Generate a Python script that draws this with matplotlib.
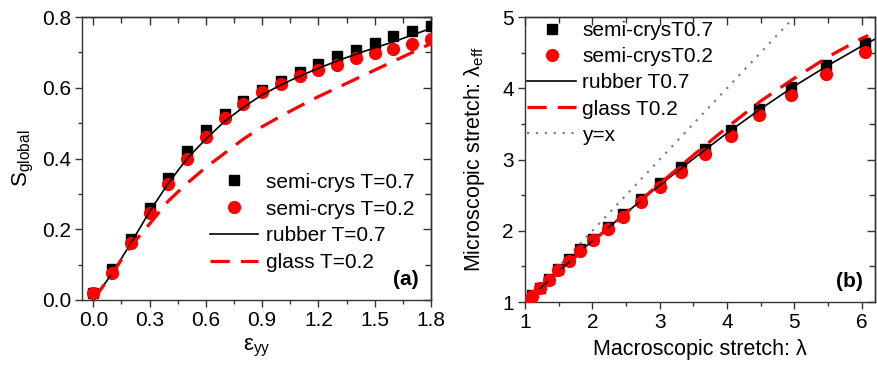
import matplotlib.pyplot as plt

plt.rcParams['font.family'] = 'Liberation Sans'
plt.rcParams['font.size'] = 15
plt.rcParams['mathtext.fontset'] = 'custom'
plt.rcParams['mathtext.rm'] = 'Liberation Sans'
plt.rcParams['mathtext.default'] = 'regular'

# (a) global order parameter vs strain
eps = [0.0, 0.1, 0.2, 0.3, 0.4, 0.5, 0.6, 0.7, 0.8, 0.9,
       1.0, 1.1, 1.2, 1.3, 1.4, 1.5, 1.6, 1.7, 1.8]
s_semi07 = [0.020, 0.087, 0.172, 0.260, 0.345, 0.420, 0.480, 0.527, 0.563, 0.594,
            0.620, 0.644, 0.667, 0.689, 0.708, 0.726, 0.745, 0.761, 0.776]
s_semi02 = [0.019, 0.077, 0.160, 0.247, 0.327, 0.398, 0.462, 0.514, 0.554, 0.587,
            0.611, 0.632, 0.649, 0.665, 0.683, 0.698, 0.711, 0.725, 0.739]
s_rubber = [0.0, 0.075, 0.160, 0.250, 0.330, 0.400, 0.455, 0.505, 0.545, 0.580,
            0.608, 0.633, 0.655, 0.676, 0.695, 0.713, 0.730, 0.749, 0.768]
s_glass = [0.0, 0.075, 0.152, 0.215, 0.280, 0.330, 0.375, 0.415, 0.455, 0.490,
           0.520, 0.548, 0.575, 0.600, 0.625, 0.650, 0.675, 0.700, 0.725]

# (b) microscopic vs macroscopic stretch
lam = [1.0, 1.11, 1.22, 1.35, 1.49, 1.65, 1.82, 2.01, 2.23, 2.46,
       2.72, 3.0, 3.32, 3.67, 4.06, 4.48, 4.95, 5.47, 6.05]
lam_semi07 = [1.02, 1.10, 1.20, 1.32, 1.47, 1.60, 1.75, 1.89, 2.06, 2.24,
              2.45, 2.67, 2.90, 3.15, 3.41, 3.71, 4.02, 4.32, 4.63]
lam_semi02 = [1.00, 1.09, 1.20, 1.31, 1.45, 1.57, 1.72, 1.87, 2.02, 2.20,
              2.40, 2.61, 2.83, 3.08, 3.33, 3.62, 3.91, 4.20, 4.51]
lam_rubber_x = [1.0, 1.5, 2.0, 2.5, 3.0, 3.5, 4.0, 4.5, 5.0, 5.5, 6.0, 6.2]
lam_rubber = [1.0, 1.43, 1.86, 2.25, 2.64, 3.01, 3.37, 3.71, 4.03, 4.32, 4.59, 4.69]
lam_glass_x = [1.0, 1.5, 2.0, 2.5, 3.0, 3.5, 4.0, 4.5, 5.0, 5.5, 6.0, 6.1]
lam_glass = [1.0, 1.42, 1.85, 2.25, 2.66, 3.06, 3.45, 3.82, 4.14, 4.44, 4.70, 4.74]
diag = [1.0, 5.0]

fig = plt.figure(figsize=(8.78, 3.67), dpi=100)
ax1 = fig.add_axes([0.0934, 0.1826, 0.3975, 0.771])
ax2 = fig.add_axes([0.598, 0.177, 0.3986, 0.7766])

ax1.plot(eps, s_semi07, 's', color='black', ms=7.5, label='semi-crys T=0.7', zorder=3)
ax1.plot(eps, s_semi02, 'o', color='red', ms=8.5, label='semi-crys T=0.2', zorder=3)
ax1.plot(eps, s_rubber, '-', color='black', lw=1.2, label='rubber T=0.7', zorder=4)
ax1.plot(eps, s_glass, '--', color='red', lw=2.3, dashes=(6, 3.5), label='glass T=0.2', zorder=4)

ax1.set_xlim(-0.06, 1.8)
ax1.set_ylim(0, 0.8)
xt_a, xm_a = [0.0, 0.3, 0.6, 0.9, 1.2, 1.5, 1.8], [0.15, 0.45, 0.75, 1.05, 1.35, 1.65]
yt_a, ym_a = [0.0, 0.2, 0.4, 0.6, 0.8], [0.1, 0.3, 0.5, 0.7]
ax1.set_xlabel(r'ε$_{yy}$', fontsize=16, labelpad=5)
ax1.set_ylabel(r'S$_{global}$', fontsize=16, labelpad=4)
ax1.legend(loc='upper left', bbox_to_anchor=(0.367, 0.45), frameon=False, fontsize=15,
           handlelength=2.3, handletextpad=0.4, labelspacing=0.38,
           borderaxespad=0, borderpad=0)
ax1.text(0.965, 0.04, '(a)', transform=ax1.transAxes, ha='right', va='bottom',
         fontweight='bold', fontsize=15)

ax2.plot(lam, lam_semi07, 's', color='black', ms=7, label='semi-crysT0.7', zorder=3)
ax2.plot(lam, lam_semi02, 'o', color='red', ms=8.5, label='semi-crysT0.2', zorder=3)
ax2.plot(lam_rubber_x, lam_rubber, '-', color='black', lw=1.2, label='rubber T0.7', zorder=4)
ax2.plot(lam_glass_x, lam_glass, '--', color='red', lw=2.3, dashes=(6, 3.5),
         label='glass T0.2', zorder=4)
ax2.plot(diag, diag, ':', color='gray', lw=1.6, dashes=(1, 3), label='y=x', zorder=2)

ax2.set_xlim(1, 6.2)
ax2.set_ylim(1, 5)
xt_b, xm_b = [1, 2, 3, 4, 5, 6], [1.5, 2.5, 3.5, 4.5, 5.5]
yt_b, ym_b = [1, 2, 3, 4, 5], [1.5, 2.5, 3.5, 4.5]
ax2.set_xlabel(r'Macroscopic stretch: λ', fontsize=15.5, labelpad=5)
ax2.set_ylabel(r'Microscopic stretch: λ$_{eff}$', fontsize=15.5, labelpad=11)
ax2.legend(loc='upper left', bbox_to_anchor=(0.006, 0.985), frameon=False, fontsize=15,
           handlelength=2.35, handletextpad=0.3, labelspacing=0.34,
           borderaxespad=0, borderpad=0)
ax2.text(0.965, 0.04, '(b)', transform=ax2.transAxes, ha='right', va='bottom',
         fontweight='bold', fontsize=15)

# outward ticks on bottom/left, inward ticks on the mirrored top/right axes
for ax, xt, xm, yt, ym in ((ax1, xt_a, xm_a, yt_a, ym_a), (ax2, xt_b, xm_b, yt_b, ym_b)):
    ax.set_xticks(xt)
    ax.set_xticks(xm, minor=True)
    ax.set_yticks(yt)
    ax.set_yticks(ym, minor=True)
    ax.tick_params(which='both', direction='out', labelsize=15, pad=3, color='#333333')
    ax.tick_params(which='major', length=5, width=1)
    ax.tick_params(which='minor', length=3, width=1)
    top = ax.secondary_xaxis('top')
    top.set_xticks(xt)
    top.set_xticks(xm, minor=True)
    right = ax.secondary_yaxis('right')
    right.set_yticks(yt)
    right.set_yticks(ym, minor=True)
    for sec in (top, right):
        sec.tick_params(which='both', direction='in', labeltop=False, labelright=False,
                        color='#333333', width=1)
        sec.tick_params(which='major', length=6)
        sec.tick_params(which='minor', length=4)
        for sp in sec.spines.values():
            sp.set_linewidth(1)
            sp.set_color('#333333')
    for sp in ax.spines.values():
        sp.set_linewidth(1)
        sp.set_color('#333333')

fig.savefig('out.png', dpi=100)
